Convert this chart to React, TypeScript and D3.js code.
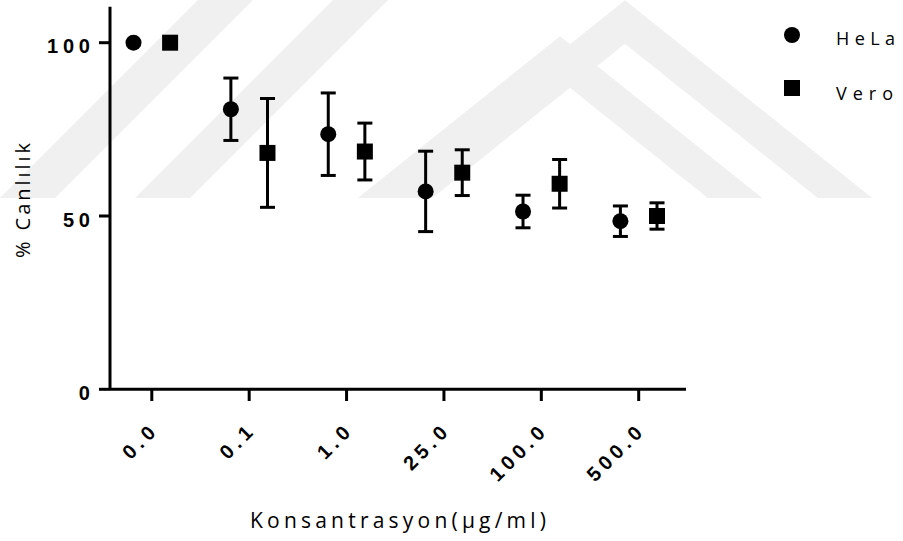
import * as d3 from "d3";

// concentrations (x categories)
const categories = ["0.0", "0.1", "1.0", "25.0", "100.0", "500.0"];

// % viability, mean and error
const helaMean = [100, 80.8, 73.6, 57.1, 51.3, 48.5];
const helaErr = [0, 9.0, 11.9, 11.6, 4.7, 4.4];
const veroMean = [100, 68.2, 68.6, 62.5, 59.3, 50.0];
const veroErr = [0, 15.7, 8.2, 6.6, 7.0, 3.8];

const yTicks = [0, 50, 100];

const W = 903;
const H = 541;

// faint background watermark: "/" bands (bottom-left x) and chevrons (apex)
const slashBands = [0, 135];
const chevrons = [
  [560, 58],
  [625, 22],
];

const App = () => {
  const x = d3.scalePoint<string>().domain(categories).range([151.8, 638.7]);
  const y = d3.scaleLinear().domain([0, 100]).range([389.3, 42.7]);
  const off = 18.3;

  const series = [
    { name: "HeLa", mean: helaMean, err: helaErr, dx: -off, shape: "circle" },
    { name: "Vero", mean: veroMean, err: veroErr, dx: off, shape: "square" },
  ];

  const font = "'Liberation Sans', Arial, sans-serif";
  const labelFont = "'Open Sans', sans-serif";
  const wmColor = "#f0f0f0";

  return (
    <svg
      width={W}
      height={H}
      style={{ position: "absolute", left: 0, top: 0, background: "#fff" }}
    >
      <defs>
        <clipPath id="wm">
          <rect x={0} y={0} width={W} height={198} />
        </clipPath>
      </defs>
      <g clipPath="url(#wm)">
        {slashBands.map((x0, i) => (
          <polygon
            key={"s" + i}
            points={`${x0},198 ${x0 + 55},198 ${x0 + 55 + 198},0 ${x0 + 198},0`}
            fill={wmColor}
          />
        ))}
        {chevrons.map(([ax, ay], i) => {
          const s = 0.8;
          const h = 260;
          const d = `M${ax - h / s},${ay + h} L${ax},${ay} L${ax + h / s},${ay + h}`;
          return (
            <path
              key={"c" + i}
              d={d}
              fill="none"
              stroke={wmColor}
              strokeWidth={34}
              strokeLinejoin="miter"
            />
          );
        })}
      </g>

      {/* axes */}
      <line x1={110} x2={110} y1={6.7} y2={389.3} stroke="#000" strokeWidth={3} />
      <line x1={110} x2={686} y1={389.3} y2={389.3} stroke="#000" strokeWidth={3} />
      {yTicks.map((t) => (
        <g key={t}>
          <line x1={99} x2={110} y1={y(t)} y2={y(t)} stroke="#000" strokeWidth={3} />
          <text
            x={90 + 4.8}
            y={y(t) + 10.5}
            textAnchor="end"
            fontFamily={font}
            fontWeight="bold"
            fontSize={20}
            letterSpacing={4.8}
          >
            {t}
          </text>
        </g>
      ))}
      {categories.map((c) => {
        const cx = x(c)!;
        return (
          <g key={c}>
            <line x1={cx} x2={cx} y1={389.3} y2={401} stroke="#000" strokeWidth={3} />
            <text
              transform={`translate(${cx + 8},${431}) rotate(-45)`}
              textAnchor="end"
              fontFamily={font}
              fontWeight="bold"
              fontSize={20}
              letterSpacing={4.6}
            >
              {c}
            </text>
          </g>
        );
      })}

      {/* data */}
      {series.map((s) =>
        categories.map((c, i) => {
          const cx = x(c)! + s.dx;
          const cy = y(s.mean[i]);
          const top = y(s.mean[i] + s.err[i]);
          const bot = y(s.mean[i] - s.err[i]);
          return (
            <g key={s.name + c}>
              {s.err[i] > 0 && (
                <g stroke="#000" strokeWidth={3}>
                  <line x1={cx} x2={cx} y1={top} y2={bot} />
                  <line x1={cx - 7.5} x2={cx + 7.5} y1={top} y2={top} />
                  <line x1={cx - 7.5} x2={cx + 7.5} y1={bot} y2={bot} />
                </g>
              )}
              {s.shape === "circle" ? (
                <circle cx={cx} cy={cy} r={8} fill="#000" />
              ) : (
                <rect x={cx - 8} y={cy - 8} width={16} height={16} fill="#000" />
              )}
            </g>
          );
        })
      )}

      {/* legend */}
      <circle cx={792} cy={35} r={8} fill="#000" />
      <text x={836} y={45} fontFamily={labelFont} fontSize={18} textLength={59} lengthAdjust="spacing">
        HeLa
      </text>
      <rect x={784} y={80} width={16} height={16} fill="#000" />
      <text x={836} y={100} fontFamily={labelFont} fontSize={18} textLength={57} lengthAdjust="spacing">
        Vero
      </text>

      {/* axis titles */}
      <text
        x={250}
        y={528}
        fontFamily={labelFont}
        fontSize={21}
        textLength={296}
        lengthAdjust="spacing"
      >
        Konsantrasyon(µg/ml)
      </text>
      <text
        transform="translate(30,258) rotate(-90)"
        fontFamily={labelFont}
        fontSize={20}
        textLength={115}
        lengthAdjust="spacing"
      >
        % Canlılık
      </text>
    </svg>
  );
};

export default App;
